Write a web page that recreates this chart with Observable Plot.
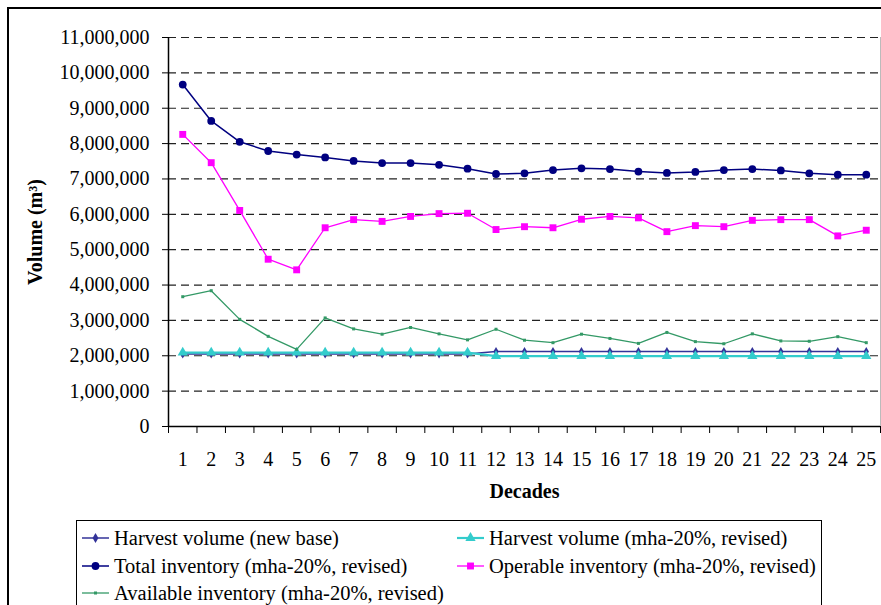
<!DOCTYPE html>
<html>
<head>
<meta charset="utf-8">
<script src="https://cdn.jsdelivr.net/npm/d3@7"></script>
<script src="https://cdn.jsdelivr.net/npm/@observablehq/plot@0.6"></script>
<style>
  html, body { margin: 0; padding: 0; background: #fff; overflow: hidden; width: 881px; height: 605px; }
  #wrap { position: relative; width: 881px; height: 605px; font-family: "Liberation Serif", "Times New Roman", serif; }
  #frame { position: absolute; left: 7px; top: 7px; width: 900px; height: 640px; border: 2px solid #000; box-sizing: border-box; }
  #chart { position: absolute; left: 0; top: 0; }
  #legend { position: absolute; left: 76px; top: 520px; width: 746px; height: 120px; border: 1.5px solid #000; box-sizing: border-box; background: #fff; }
  .item { position: absolute; height: 24px; display: flex; align-items: center; font-size: 20.5px; color: #000; white-space: nowrap; }
  .item svg { margin-right: 5px; }
</style>
</head>
<body>
<div id="wrap">
  <div id="frame"></div>
  <div id="chart"></div>
  <div id="legend"></div>
</div>
<script>
const decades = d3.range(1, 26);
const harvestNewBase = [2050000,2050000,2050000,2050000,2050000,2050000,2050000,2050000,2050000,2050000,2050000,
  2120000,2120000,2120000,2120000,2120000,2120000,2120000,2120000,2120000,2120000,2120000,2120000,2120000,2120000];
const harvestRevised = [2090000,2090000,2090000,2090000,2090000,2090000,2090000,2090000,2090000,2090000,2090000,
  1990000,1990000,1990000,1990000,1990000,1990000,1990000,1990000,1990000,1990000,1990000,1990000,1990000,1990000];
const totalInventory = [9670000,8640000,8050000,7790000,7690000,7610000,7510000,7450000,7450000,7400000,7290000,7140000,
  7160000,7250000,7300000,7280000,7210000,7170000,7200000,7250000,7280000,7240000,7160000,7120000,7120000];
const operableInventory = [8260000,7460000,6110000,4730000,4430000,5620000,5850000,5800000,5940000,6020000,6030000,5570000,
  5650000,5620000,5860000,5940000,5900000,5510000,5680000,5650000,5830000,5850000,5850000,5390000,5550000];
const availableInventory = [3670000,3840000,3030000,2550000,2180000,3070000,2760000,2610000,2800000,2620000,2450000,2750000,
  2440000,2370000,2610000,2490000,2350000,2660000,2400000,2340000,2620000,2420000,2410000,2540000,2370000];
const yTicks = d3.range(0, 11000001, 1000000);
const gridTicks = d3.range(1000000, 11000001, 1000000);
const boundaryTicks = d3.range(0.5, 25.6, 1);

const seriesNames = [
  "Harvest volume (new base)",
  "Harvest volume (mha-20%, revised)",
  "Total inventory (mha-20%, revised)",
  "Operable inventory (mha-20%, revised)",
  "Available inventory (mha-20%, revised)"
];
const seriesValues = [harvestNewBase, harvestRevised, totalInventory, operableInventory, availableInventory];
const styles = [
  {color: "#333399", symbol: "diamond", r: 2.8, sw: 1.5},
  {color: "#33CCCC", symbol: "triangle", r: 3.8, sw: 2.2},
  {color: "#000080", symbol: "circle", r: 3.9, sw: 1.5},
  {color: "#FF00FF", symbol: "square", r: 3.9, sw: 1.3},
  {color: "#339966", symbol: "square", r: 1.7, sw: 1.3}
];

const marks = [
  Plot.ruleY(gridTicks, {stroke: "#222", strokeWidth: 1.2, strokeDasharray: "8,5"}),
  Plot.ruleX([25.5], {stroke: "#bbb", strokeWidth: 1}),
  Plot.axisY({ticks: yTicks, tickFormat: d3.format(","), tickSize: 6, tickPadding: 13, fontSize: 20,
    label: "Volume (m³)", labelAnchor: "center", labelArrow: "none", labelOffset: 141}),
  Plot.axisX({ticks: boundaryTicks, tickFormat: () => "", tickSize: 7, label: null}),
  Plot.axisX({ticks: decades, tickFormat: d => String(d), tickSize: 0, tickPadding: 25, fontSize: 20,
    label: "Decades", labelAnchor: "center", labelArrow: "none", labelOffset: 71}),
  Plot.ruleY([0], {stroke: "#000", strokeWidth: 1.5}),
  Plot.ruleX([0.5], {stroke: "#000", strokeWidth: 1.5})
];
seriesValues.forEach((vals, i) => {
  const data = decades.map((d, j) => ({x: d, y: vals[j]}));
  const s = styles[i];
  marks.push(Plot.line(data, {x: "x", y: "y", stroke: s.color, strokeWidth: s.sw}));
  marks.push(Plot.dot(data, {x: "x", y: "y", symbol: s.symbol, r: s.r, fill: s.color, stroke: "none"}));
});

const plot = Plot.plot({
  width: 881,
  height: 510,
  marginLeft: 168,
  marginRight: 1,
  marginTop: 37,
  marginBottom: 84,
  style: {fontFamily: "'Liberation Serif', 'Times New Roman', serif", fontSize: "20px", color: "#000", background: "transparent"},
  x: {type: "linear", domain: [0.5, 25.5]},
  y: {domain: [0, 11000000]},
  marks
});
plot.querySelectorAll('[aria-label="y-axis label"] text, [aria-label="x-axis label"] text').forEach(t => {
  t.setAttribute("font-weight", "bold");
  t.setAttribute("font-size", "20");
});
document.getElementById("chart").appendChild(plot);

// legend
const legend = document.getElementById("legend");
const pos = [[5, 5], [380, 5], [5, 33], [380, 33], [5, 60]];
seriesNames.forEach((name, i) => {
  const s = styles[i];
  const div = document.createElement("div");
  div.className = "item";
  div.style.left = pos[i][0] + "px";
  div.style.top = pos[i][1] + "px";
  const sym = d3.symbol(
    {circle: d3.symbolCircle, square: d3.symbolSquare, triangle: d3.symbolTriangle, diamond: d3.symbolDiamond}[s.symbol],
    Math.PI * s.r * s.r * (s.symbol === "diamond" ? 1.2 : 1)
  )();
  div.innerHTML = `<svg width="27" height="14"><line x1="0" x2="27" y1="7" y2="7" stroke="${s.color}" stroke-width="${s.sw}"/><path d="${sym}" transform="translate(13.5,7)" fill="${s.color}"/></svg><span>${name}</span>`;
  legend.appendChild(div);
});
</script>
</body>
</html>
